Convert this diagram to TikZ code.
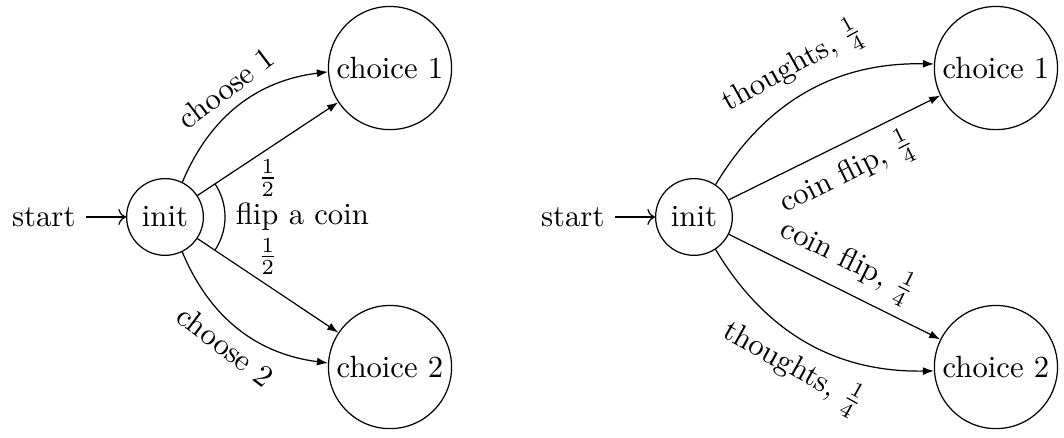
\documentclass[tikz,border=0pt]{standalone}
\usetikzlibrary{arrows.meta,automata}

\begin{document}
\begin{tikzpicture}[every state/.style={inner sep=2pt}]
    \useasboundingbox (0, 0) rectangle (12.181, 5.003);

    % left: one choice by a coin
    \node[state, initial, initial text=start] (i1) at (1.889, 2.519) {init};
    \node[state] (a1) at (4.465, 4.224) {choice 1};
    \node[state] (b1) at (4.465, 0.801) {choice 2};

    \draw[-{Latex[length=3.6pt, width=2.6pt]}] (i1) to[bend left]
	node [sloped, above] {choose 1} (a1);
    \draw[-{Latex[length=3.6pt, width=2.6pt]}] (i1) -- (a1)
	node [midway, below] {$\frac{1}{2}$};
    \draw[-{Latex[length=3.6pt, width=2.6pt]}] (i1) -- (b1)
	node [midway, above] {$\frac{1}{2}$};
    \draw[-{Latex[length=3.6pt, width=2.6pt]}] (i1) to[bend right]
	node [sloped, below] {choose 2} (b1);

    \draw (i1.center) ++(-33.5:0.687) arc (-33.5:33.5:0.687);
    \node[right] (flip) at ([xshift=0.687cm]i1.center) {flip a coin};

    % right: thoughts or a coin
    \node[state, initial, initial text=start] (i2) at (7.945, 2.519) {init};
    \node[state] (a2) at (11.402, 4.224) {choice 1};
    \node[state] (b2) at (11.402, 0.801) {choice 2};

    \draw[-{Latex[length=3.6pt, width=2.6pt]}] (i2) to[bend left]
	node [sloped, above] {thoughts, $\frac{1}{4}$} (a2);
    \draw[-{Latex[length=3.6pt, width=2.6pt]}] (i2) -- (a2)
	node [midway, sloped, below] {coin flip, $\frac{1}{4}$};
    \draw[-{Latex[length=3.6pt, width=2.6pt]}] (i2) -- (b2)
	node [midway, sloped, above] {coin flip, $\frac{1}{4}$};
    \draw[-{Latex[length=3.6pt, width=2.6pt]}] (i2) to[bend right]
	node [sloped, below] {thoughts, $\frac{1}{4}$} (b2);
\end{tikzpicture}
\end{document}
